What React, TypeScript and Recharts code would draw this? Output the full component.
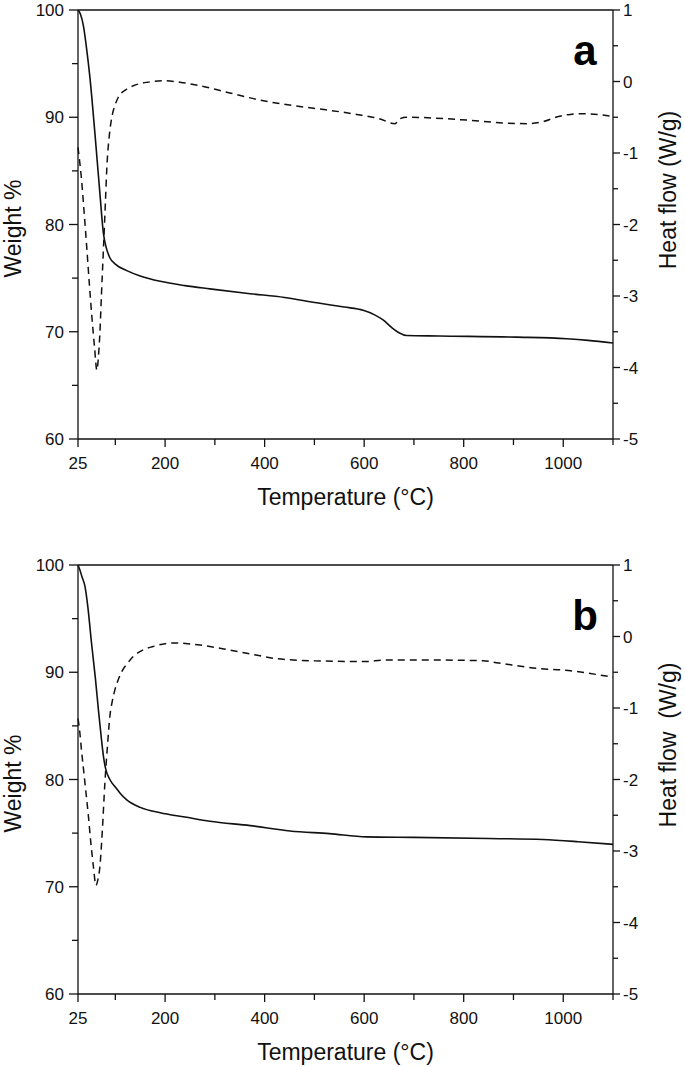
import { LineChart, Line, XAxis, YAxis } from "recharts";

// panel a – weight loss (TGA)
const weightTempA = [25, 30, 36, 42, 49, 59, 69, 76, 82, 89, 100, 123, 150, 190, 240, 290, 371, 440, 505, 560, 598, 620, 638, 655, 670, 685, 750, 906, 1007, 1050, 1100];
const weightA = [100, 99.6, 98.5, 96.5, 93.7, 88.5, 82.9, 79.2, 77.8, 76.9, 76.3, 75.7, 75.2, 74.7, 74.3, 74.0, 73.55, 73.2, 72.7, 72.3, 72.0, 71.6, 71.1, 70.4, 69.9, 69.65, 69.6, 69.5, 69.35, 69.2, 68.95];

// panel a – heat flow (DSC)
const heatTempA = [25, 28, 31, 37, 43, 48, 53, 58, 63, 66, 69, 72, 76, 80, 83, 88, 93, 100, 106, 120, 136, 165, 200, 230, 270, 330, 391, 450, 505, 585, 630, 662, 672, 685, 806, 880, 927, 960, 990, 1014, 1040, 1100];
const heatA = [-0.92, -1.1, -1.29, -1.8, -2.36, -2.85, -3.3, -3.7, -4.04, -3.85, -3.52, -3.0, -2.36, -1.7, -1.2, -0.75, -0.5, -0.32, -0.22, -0.12, -0.06, -0.01, 0.01, -0.01, -0.06, -0.16, -0.26, -0.33, -0.38, -0.46, -0.52, -0.59, -0.52, -0.5, -0.54, -0.58, -0.59, -0.56, -0.49, -0.46, -0.45, -0.49];

// panel b – weight loss (TGA)
const weightTempB = [25, 29, 33, 39, 45, 52, 60, 66, 72, 76, 80, 89, 100, 110, 123, 150, 190, 240, 290, 371, 451, 530, 605, 700, 850, 959, 1030, 1100];
const weightB = [100, 99.5, 98.9, 98.0, 96.0, 92.8, 89.4, 86.5, 83.8, 82.2, 81.1, 80.0, 79.3, 78.7, 78.1, 77.4, 76.9, 76.5, 76.1, 75.7, 75.2, 74.95, 74.65, 74.6, 74.5, 74.4, 74.2, 73.95];

// panel b – heat flow (DSC)
const heatTempB = [25, 28, 32, 39, 46, 51, 56, 61, 65, 69, 74, 79, 84, 89, 94, 99, 106, 113, 125, 136, 155, 176, 200, 223, 245, 270, 330, 391, 424, 500, 605, 638, 760, 839, 870, 953, 1000, 1100];
const heatB = [-1.15, -1.3, -1.59, -2.05, -2.52, -2.9, -3.22, -3.48, -3.4, -3.22, -2.7, -2.05, -1.55, -1.12, -0.9, -0.75, -0.6, -0.49, -0.37, -0.28, -0.19, -0.14, -0.1, -0.09, -0.1, -0.12, -0.19, -0.27, -0.31, -0.34, -0.35, -0.33, -0.33, -0.34, -0.37, -0.45, -0.47, -0.57];

const xTicks = [25, 100, 200, 300, 400, 500, 600, 700, 800, 900, 1000, 1100];
const xLabeled = [25, 200, 400, 600, 800, 1000];
const weightTicks = [60, 65, 70, 75, 80, 85, 90, 95, 100];
const heatTicks = [-5, -4.5, -4, -3.5, -3, -2.5, -2, -1.5, -1, -0.5, 0, 0.5, 1];

const FONT = "'Liberation Sans', Arial, sans-serif";
const INK = "#111";

const zip = (ts: number[], vs: number[]) => ts.map((t, i) => ({ t, v: vs[i] }));

function BottomTick(props: any) {
  const { x, y, payload } = props;
  const major = xLabeled.includes(payload.value);
  return (
    <g>
      <line x1={x} x2={x} y1={y} y2={y + (major ? 8 : 6)} stroke={INK} strokeWidth={1.3} />
      {major && (
        <text x={x} y={y + 30} textAnchor="middle" fontSize={17} fontFamily={FONT} fill={INK}>
          {payload.value}
        </text>
      )}
    </g>
  );
}

function TopTick(props: any) {
  const { x, y, payload } = props;
  const major = xLabeled.includes(payload.value);
  return <line x1={x} x2={x} y1={y} y2={y + (major ? 8 : 6)} stroke={INK} strokeWidth={1.3} />;
}

function LeftTick(props: any) {
  const { x, y, payload } = props;
  const major = payload.value % 10 === 0;
  return (
    <g>
      <line x1={x - (major ? 9 : 6)} x2={x} y1={y} y2={y} stroke={INK} strokeWidth={1.3} />
      {major && (
        <text x={x - 14} y={y} dy="0.36em" textAnchor="end" fontSize={17} fontFamily={FONT} fill={INK}>
          {payload.value}
        </text>
      )}
    </g>
  );
}

function RightTick(props: any) {
  const { x, y, payload } = props;
  const major = Number.isInteger(payload.value);
  return (
    <g>
      <line x1={x} x2={x + (major ? 7 : 5)} y1={y} y2={y} stroke={INK} strokeWidth={1.3} />
      {major && (
        <text x={x + 10} y={y} dy="0.36em" textAnchor="start" fontSize={17} fontFamily={FONT} fill={INK}>
          {payload.value}
        </text>
      )}
    </g>
  );
}

type PanelProps = {
  letter: string;
  height: number;
  bottomMargin: number;
  weight: { t: number; v: number }[];
  heat: { t: number; v: number }[];
  heatTitle: string;
};

function Panel({ letter, height, bottomMargin, weight, heat, heatTitle }: PanelProps) {
  return (
    <LineChart width={685} height={height} margin={{ top: 9, right: 12, bottom: bottomMargin, left: 18 }}>
      <XAxis
        xAxisId="bottom"
        dataKey="t"
        type="number"
        domain={[25, 1100]}
        ticks={xTicks}
        interval={0}
        tickSize={0}
        tickMargin={0}
        tickLine={false}
        tick={<BottomTick />}
        height={70}
        axisLine={{ stroke: INK, strokeWidth: 1.3 }}
        label={(p: any) => {
          const vb = p.viewBox || { x: 78, y: 439, width: 535 };
          return (
            <text x={vb.x + vb.width / 2} y={vb.y + 66} textAnchor="middle" fontSize={23} fontFamily={FONT} fill={INK}>
              Temperature (°C)
            </text>
          );
        }}
      />
      <XAxis
        xAxisId="top"
        orientation="top"
        dataKey="t"
        type="number"
        domain={[25, 1100]}
        ticks={xTicks}
        interval={0}
        tickSize={0}
        tickMargin={0}
        tickLine={false}
        tick={<TopTick />}
        height={1}
        axisLine={{ stroke: INK, strokeWidth: 1.3 }}
        label={(p: any) => {
          const vb = p.viewBox || { x: 78, y: 9, width: 535, height: 1 };
          return (
            <text x={vb.x + vb.width - 28} y={vb.y + vb.height + (letter === "a" ? 55 : 65)} textAnchor="middle" fontSize={42} fontWeight="bold" fontFamily={FONT} fill="#000">
              {letter}
            </text>
          );
        }}
      />
      <YAxis
        yAxisId="w"
        type="number"
        domain={[60, 100]}
        ticks={weightTicks}
        interval={0}
        tickSize={0}
        tickMargin={0}
        tickLine={false}
        tick={<LeftTick />}
        width={60}
        axisLine={{ stroke: INK, strokeWidth: 1.3 }}
        label={(p: any) => {
          const vb = p.viewBox || { x: 18, y: 10, width: 60, height: 429 };
          const cx = vb.x - 5;
          const cy = vb.y + vb.height / 2 + 4;
          return (
            <text x={cx} y={cy} transform={`rotate(-90, ${cx}, ${cy})`} dy="0.35em" textAnchor="middle" fontSize={23} fontFamily={FONT} fill={INK}>
              Weight %
            </text>
          );
        }}
      />
      <YAxis
        yAxisId="h"
        orientation="right"
        type="number"
        domain={[-5, 1]}
        ticks={heatTicks}
        interval={0}
        tickSize={0}
        tickMargin={0}
        tickLine={false}
        tick={<RightTick />}
        width={60}
        axisLine={{ stroke: INK, strokeWidth: 1.3 }}
        label={(p: any) => {
          const vb = p.viewBox || { x: 613, y: 10, width: 60, height: 429 };
          const cx = vb.x + 55;
          const cy = vb.y + 180;
          return (
            <text x={cx} y={cy} transform={`rotate(-90, ${cx}, ${cy})`} dy="0.35em" textAnchor="middle" fontSize={23} fontFamily={FONT} fill={INK} style={{ whiteSpace: "pre" }}>
              {heatTitle}
            </text>
          );
        }}
      />
      <Line
        xAxisId="bottom"
        yAxisId="w"
        data={weight}
        dataKey="v"
        type="monotone"
        dot={false}
        stroke={INK}
        strokeWidth={1.6}
        isAnimationActive={false}
      />
      <Line
        xAxisId="bottom"
        yAxisId="h"
        data={heat}
        dataKey="v"
        type="monotone"
        dot={false}
        stroke={INK}
        strokeWidth={1.5}
        strokeDasharray="7 5"
        isAnimationActive={false}
      />
    </LineChart>
  );
}

export default function App() {
  return (
    <div style={{ position: "absolute", left: 0, top: 0, width: 685, height: 1067, background: "#fff" }}>
      <div style={{ position: "absolute", left: 0, top: 0 }}>
        <Panel
          letter="a"
          height={530}
          bottomMargin={21}
          weight={zip(weightTempA, weightA)}
          heat={zip(heatTempA, heatA)}
          heatTitle="Heat flow (W/g)"
        />
      </div>
      <div style={{ position: "absolute", left: 0, top: 555 }}>
        <Panel
          letter="b"
          height={512}
          bottomMargin={3}
          weight={zip(weightTempB, weightB)}
          heat={zip(heatTempB, heatB)}
          heatTitle="Heat flow  (W/g)"
        />
      </div>
    </div>
  );
}
